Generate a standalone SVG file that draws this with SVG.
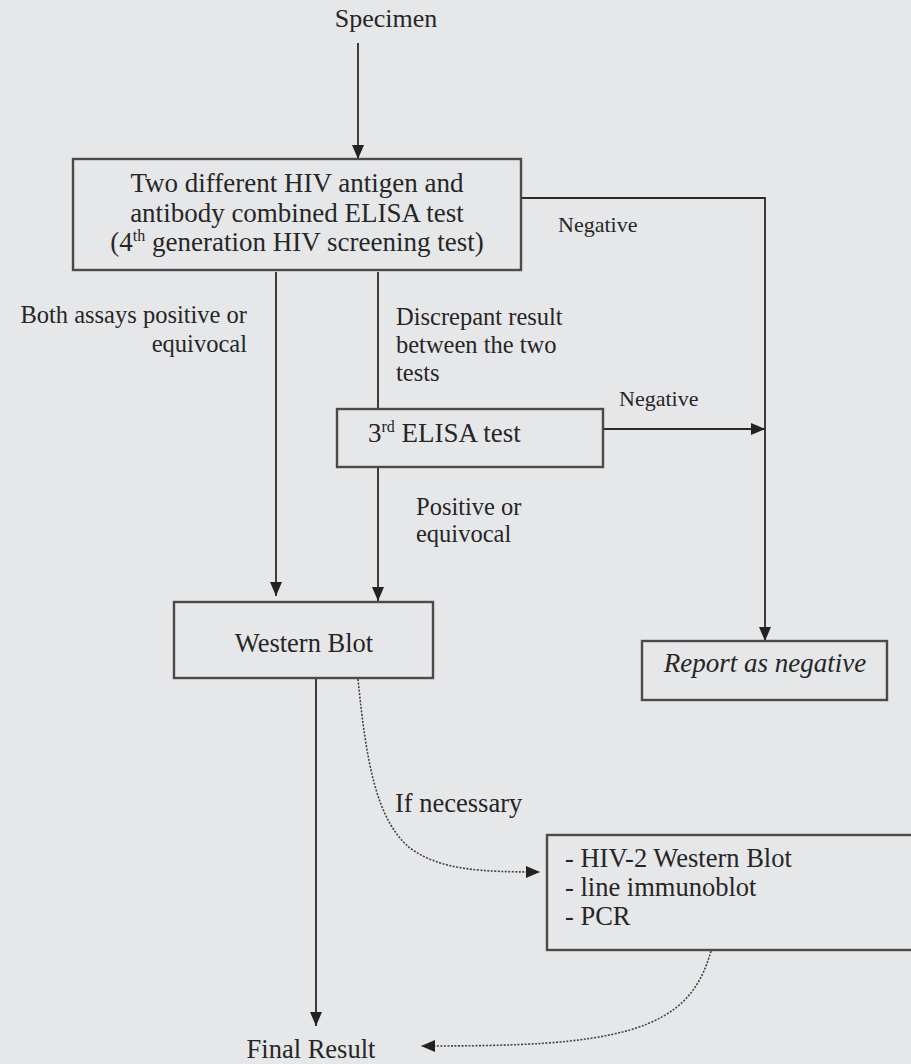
<svg xmlns="http://www.w3.org/2000/svg" width="911" height="1064" viewBox="0 0 911 1064">
<defs>
<marker id="ah" markerUnits="userSpaceOnUse" markerWidth="14" markerHeight="12" refX="14" refY="6" orient="auto">
<path d="M0,0 L14,6 L0,12 Z" fill="#222"/>
</marker>
<style>
.box{fill:none;stroke:#4a4a4a;stroke-width:2.4}
.ln{fill:none;stroke:#2a2a2a;stroke-width:1.8}
.dot{fill:none;stroke:#444;stroke-width:1.6;stroke-dasharray:2 1.5}
text{font-family:"Liberation Serif","Times New Roman",serif;fill:#262626}
.nt{font-size:26.5px}
.lb{font-size:24.5px}
.ng{font-size:22px}
</style>
</defs>
<rect width="911" height="1064" fill="#e6e7e9"/>
<g id="connectors">
<line class="ln" x1="358" y1="43" x2="358" y2="159" marker-end="url(#ah)"/>
<polyline class="ln" points="521,198 765,198 765,641" marker-end="url(#ah)"/>
<line class="ln" x1="276" y1="272" x2="276" y2="596" marker-end="url(#ah)"/>
<line class="ln" x1="378" y1="272" x2="378" y2="409"/>
<line class="ln" x1="378" y1="467" x2="378" y2="601" marker-end="url(#ah)"/>
<line class="ln" x1="603" y1="429" x2="765" y2="429" marker-end="url(#ah)"/>
<line class="ln" x1="316" y1="679" x2="316" y2="1026" marker-end="url(#ah)"/>
<path class="dot" d="M358,679 C366,760 376,820 410,848 C440,870 480,872 540,872" marker-end="url(#ah)"/>
<path class="dot" d="M711,951 C700,990 680,1015 630,1030 C580,1044 520,1046 421,1046" marker-end="url(#ah)"/>
<text class="ng" x="558" y="232">Negative</text>
<text class="lb" x="247" y="323" text-anchor="end">Both assays positive or</text>
<text class="lb" x="247" y="352" text-anchor="end">equivocal</text>
<text class="lb" x="396" y="325">Discrepant result</text>
<text class="lb" x="396" y="353">between the two</text>
<text class="lb" x="396" y="381">tests</text>
<text class="ng" x="619" y="406">Negative</text>
<text class="lb" x="416" y="515">Positive or</text>
<text class="lb" x="416" y="542">equivocal</text>
<text class="nt" x="395" y="812">If necessary</text>
</g>
<g id="specimen">
<text class="nt" x="386" y="27" text-anchor="middle" style="font-size:26px">Specimen</text>
</g>
<g id="elisa4">
<rect class="box" x="73" y="159" width="448" height="111"/>
<text x="297" y="192" text-anchor="middle" style="font-size:27px">Two different HIV antigen and</text>
<text x="297" y="222" text-anchor="middle" style="font-size:27px">antibody combined ELISA test</text>
<text x="297" y="251" text-anchor="middle" style="font-size:27px">(4<tspan dy="-10" style="font-size:16px">th</tspan><tspan dy="10"> generation HIV screening test)</tspan></text>
</g>
<g id="elisa3">
<rect class="box" x="337" y="409" width="266" height="58"/>
<text x="368" y="442" style="font-size:27px">3<tspan dy="-10" style="font-size:16px">rd</tspan><tspan dy="10"> ELISA test</tspan></text>
</g>
<g id="western">
<rect class="box" x="174" y="602" width="259" height="76"/>
<text class="nt" x="304" y="652" text-anchor="middle">Western Blot</text>
</g>
<g id="negative">
<rect class="box" x="642" y="641" width="245" height="59"/>
<text x="765" y="672" text-anchor="middle" style="font-size:27px;font-style:italic">Report as negative</text>
</g>
<g id="confirm">
<rect class="box" x="547" y="835" width="380" height="115"/>
<text class="nt" x="565" y="867">- HIV-2 Western Blot</text>
<text class="nt" x="565" y="896">- line immunoblot</text>
<text class="nt" x="565" y="925">- PCR</text>
</g>
<g id="final">
<text class="nt" x="311" y="1058" text-anchor="middle">Final Result</text>
</g>
</svg>
